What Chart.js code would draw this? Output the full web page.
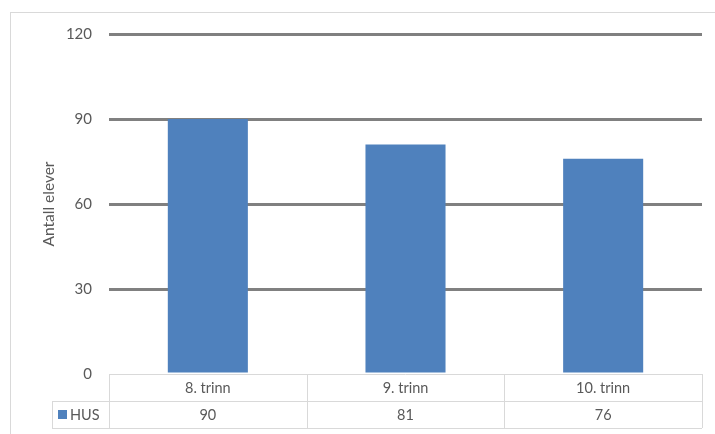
<!DOCTYPE html>
<html>
<head>
<meta charset="utf-8">
<script src="https://cdn.jsdelivr.net/npm/chart.js@4/dist/chart.umd.min.js"></script>
<style>
    html, body { margin: 0; padding: 0; background: #fff; }
    #wrap { width: 715px; height: 434px; }
</style>
</head>
<body>
<div id="wrap"><canvas id="barChart" width="715" height="434"></canvas></div>
<script>
const categories = ['8. trinn', '9. trinn', '10. trinn'];
const seriesName = 'HUS';
const husValues = [90, 81, 76];
const yTicks = [0, 30, 60, 90, 120];

const textColor = '#595959';
const tableLine = '#d9d9d9';
const barColor = '#4f81bd';
const fontFamily = 'Lato, "Open Sans", sans-serif';

// Frame + data table under the plot (Excel style)
const tablePlugin = {
    id: 'dataTable',
    beforeDraw(chart) {
        const c = chart.ctx;
        c.save();
        c.strokeStyle = tableLine;
        c.lineWidth = 1;
        c.strokeRect(10.5, 12.5, 800, 500);
        c.restore();
    },
    afterDraw(chart) {
        const c = chart.ctx;
        const x = chart.scales.x;
        const top = chart.chartArea.bottom;
        const rowH = 27;
        const legendLeft = 52;
        const colW = (x.right - x.left) / categories.length;

        c.save();
        c.strokeStyle = tableLine;
        c.lineWidth = 1;
        c.beginPath();
        // horizontal lines
        c.moveTo(x.left, top + 0.5); c.lineTo(x.right, top + 0.5);
        c.moveTo(legendLeft, top + rowH + 0.5); c.lineTo(x.right, top + rowH + 0.5);
        c.moveTo(legendLeft, top + 2 * rowH + 0.5); c.lineTo(x.right, top + 2 * rowH + 0.5);
        // vertical lines
        c.moveTo(legendLeft + 0.5, top + rowH); c.lineTo(legendLeft + 0.5, top + 2 * rowH);
        for (let i = 0; i <= categories.length; i++) {
            const px = Math.round(x.left + i * colW) + 0.5;
            c.moveTo(px, top); c.lineTo(px, top + 2 * rowH);
        }
        c.stroke();

        c.fillStyle = textColor;
        c.font = '14.5px ' + fontFamily;
        c.textAlign = 'center';
        c.textBaseline = 'middle';
        categories.forEach((cat, i) => {
            const cx = x.getPixelForValue(i);
            c.fillText(cat, cx, top + rowH / 2 + 1);
            c.fillText(String(husValues[i]), cx, top + rowH * 1.5 + 1);
        });

        // legend key
        c.fillStyle = barColor;
        c.fillRect(legendLeft + 6, top + rowH + 9, 9, 9);
        c.fillStyle = textColor;
        c.textAlign = 'left';
        c.fillText(seriesName, legendLeft + 18, top + rowH * 1.5 + 1);
        c.restore();
    }
};

new Chart(document.getElementById('barChart'), {
    type: 'bar',
    data: {
        labels: categories,
        datasets: [{
            label: seriesName,
            data: husValues,
            backgroundColor: barColor,
            categoryPercentage: 1,
            barPercentage: 0.405
        }]
    },
    options: {
        responsive: false,
        animation: false,
        layout: { padding: { left: 10, top: 34, right: 13, bottom: 60 } },
        plugins: {
            legend: { display: false },
            tooltip: { enabled: false }
        },
        scales: {
            x: { display: false },
            y: {
                min: 0,
                max: 120,
                afterBuildTicks: scale => { scale.ticks = yTicks.map(v => ({ value: v })); },
                afterFit: scale => { scale.width = 99; },
                border: { display: false },
                grid: {
                    drawTicks: false,
                    lineWidth: 3,
                    color: ctx => ctx.tick && ctx.tick.value === 0 ? 'rgba(0,0,0,0)' : '#808080'
                },
                ticks: {
                    padding: 17,
                    color: textColor,
                    font: { family: fontFamily, size: 15 }
                },
                title: {
                    display: true,
                    text: 'Antall elever',
                    color: textColor,
                    font: { family: fontFamily, size: 15.5 },
                    padding: { top: 30, bottom: 0 }
                }
            }
        }
    },
    plugins: [tablePlugin]
});
</script>
</body>
</html>
